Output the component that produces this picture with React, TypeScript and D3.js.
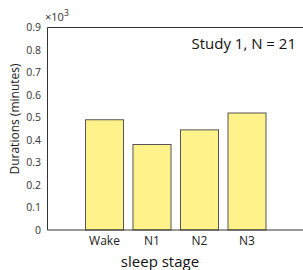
import React from "react";
import * as d3 from "d3";

const categories = ["Wake", "N1", "N2", "N3"];
const values = [0.49, 0.38, 0.445, 0.52];
const yTicks = [0, 0.1, 0.2, 0.3, 0.4, 0.5, 0.6, 0.7, 0.8, 0.9];
const title = "Study 1, N = 21";
const xLabel = "sleep stage";
const yLabel = "Durations (minutes)";

export default function App() {
  const W = 303, H = 270;
  const left = 47.5, right = 304, top = 27.5, bottom = 230;
  const x = d3.scaleLinear().domain([-0.2, 5.2]).range([left, right]);
  const y = d3.scaleLinear().domain([0, 0.9]).range([bottom, top]);
  const bw = x(0.8) - x(0);
  const font = "'Open Sans', 'Noto Sans', sans-serif";
  return (
    <svg width={W} height={H} style={{ position: "absolute", left: 0, top: 0 }}>
      <rect width={W} height={H} fill="#fff" />
      {values.map((v, i) => (
        <rect key={i} x={x(i + 1) - bw / 2} y={y(v)}
          width={bw} height={y(0) - y(v)} fill="#fff28a" stroke="#555" strokeWidth={1} />
      ))}
      <line x1={left} x2={left} y1={top} y2={bottom} stroke="#333" strokeWidth={1} />
      <line x1={left} x2={W} y1={top} y2={top} stroke="#333" strokeWidth={1} />
      <line x1={left} x2={W} y1={bottom} y2={bottom} stroke="#333" strokeWidth={1} />
      {yTicks.map((t) => (
        <text key={t} x={41} y={y(t)} dy="0.35em" textAnchor="end" fontSize={10.5} fontFamily={font} fill="#333">
          {t === 0 ? "0" : t.toFixed(1)}
        </text>
      ))}
      <text x={45} y={21} fontSize={11} fontFamily={font} fill="#333">
        ×10<tspan dy={-5} fontSize={8.5}>3</tspan>
      </text>
      {categories.map((c, i) => (
        <text key={c} x={x(i + 1)} y={245} textAnchor="middle" fontSize={12} fontFamily={font} fill="#222">
          {c}
        </text>
      ))}
      <text x={160} y={266.5} textAnchor="middle" fontSize={15} fontFamily={font} fill="#111">{xLabel}</text>
      <text transform={`translate(19,119) rotate(-90)`} textAnchor="middle" fontSize={12} fontFamily={font} fill="#222">{yLabel}</text>
      <text x={296} y={49} textAnchor="end" fontSize={15} fontFamily={font} fill="#111">{title}</text>
    </svg>
  );
}
